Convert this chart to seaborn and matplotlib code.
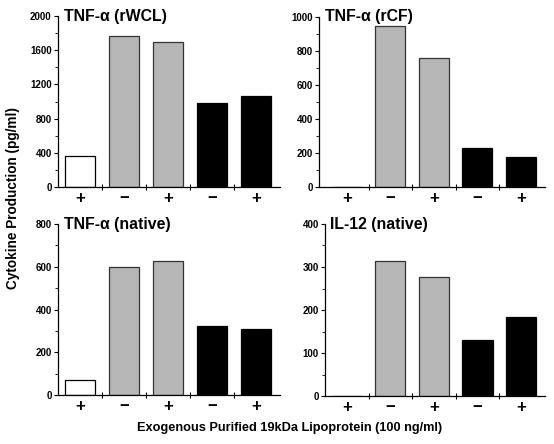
import numpy as np
import pandas as pd
import matplotlib
matplotlib.use("Agg")
import matplotlib.pyplot as plt
from matplotlib.ticker import MultipleLocator, FixedLocator
import seaborn as sns

# data
conditions = ["+", "\u2212", "+", "\u2212", "+"]
bar_colors = ["white", "#b7b7b7", "#b7b7b7", "black", "black"]

tnf_rwcl = [358, 1767, 1700, 988, 1070]
tnf_rcf = [0, 945, 756, 229, 176]
tnf_native = [72, 600, 627, 322, 308]
il12_native = [0, 313, 277, 130, 183]

panels = [
    ("TNF-\u03b1 (rWCL)", tnf_rwcl, 2000, 400, 200),
    ("TNF-\u03b1 (rCF)", tnf_rcf, 1000, 200, 100),
    ("TNF-\u03b1 (native)", tnf_native, 800, 200, 100),
    ("IL-12 (native)", il12_native, 400, 100, 50),
]

sns.set_theme(style="ticks")
plt.rcParams["font.family"] = ["Liberation Sans", "DejaVu Sans"]
plt.rcParams["font.weight"] = "bold"
plt.rcParams["text.color"] = "black"
plt.rcParams["axes.edgecolor"] = "black"
plt.rcParams["xtick.color"] = "black"
plt.rcParams["ytick.color"] = "black"

W, H = 554, 444
fig = plt.figure(figsize=(W / 100, H / 100), dpi=100)

# axes boxes in pixels: left, right, top, bottom, xmin
boxes = [
    (58, 280, 16, 187, -0.5),
    (319, 545, 17, 187, -0.636),
    (58, 280, 224, 395, -0.5),
    (325, 545, 224, 396, -0.5),
]

for (title, vals, ymax, major, minor), (l, r, t, b, xmin) in zip(panels, boxes):
    ax = fig.add_axes([l / W, (H - b) / H, (r - l) / W, (b - t) / H])
    df = pd.DataFrame({"pos": [str(i) for i in range(5)], "val": vals})
    sns.barplot(data=df, x="pos", y="val", hue="pos", palette=bar_colors,
                legend=False, width=0.69, edgecolor="black", linewidth=0.9,
                saturation=1, ax=ax)
    for p, c in zip(ax.patches, bar_colors):
        if c not in ("white", "black"):
            p.set_edgecolor("#333333")
    ax.set_xlim(xmin, 4.55)
    ax.set_ylim(0, ymax)
    ax.yaxis.set_major_locator(MultipleLocator(major))
    ax.yaxis.set_minor_locator(MultipleLocator(minor))
    ax.set_xticks(range(5))
    ax.set_xticklabels(conditions, fontsize=12, fontweight="bold")
    ax.xaxis.set_minor_locator(FixedLocator([0.5, 1.5, 2.5, 3.5]))
    ax.tick_params(axis="x", which="major", length=0, pad=3)
    ax.tick_params(axis="x", which="minor", length=5, direction="inout", width=0.8)
    ax.tick_params(axis="y", which="major", length=3, width=0.8, labelsize=7, pad=1.5)
    ax.tick_params(axis="y", which="minor", length=2, width=0.6)
    for lab in ax.get_yticklabels():
        lab.set_fontweight("bold")
    ax.set_xlabel("")
    ax.set_ylabel("")
    sns.despine(ax=ax)
    for s in ["left", "bottom"]:
        ax.spines[s].set_linewidth(0.9)
    ax.text(0.025, 1.0, title, transform=ax.transAxes, ha="left", va="center",
            fontsize=11.4, fontweight="bold")

fig.text(13 / W, 1 - 198 / H, "Cytokine Production (pg/ml)", rotation=90,
         ha="center", va="center", fontsize=9.8, fontweight="bold")
fig.text(290 / W, 1 - 428 / H, "Exogenous Purified 19kDa Lipoprotein (100 ng/ml)",
         ha="center", va="center", fontsize=9.2, fontweight="bold")

fig.savefig("out.png", dpi=100)
